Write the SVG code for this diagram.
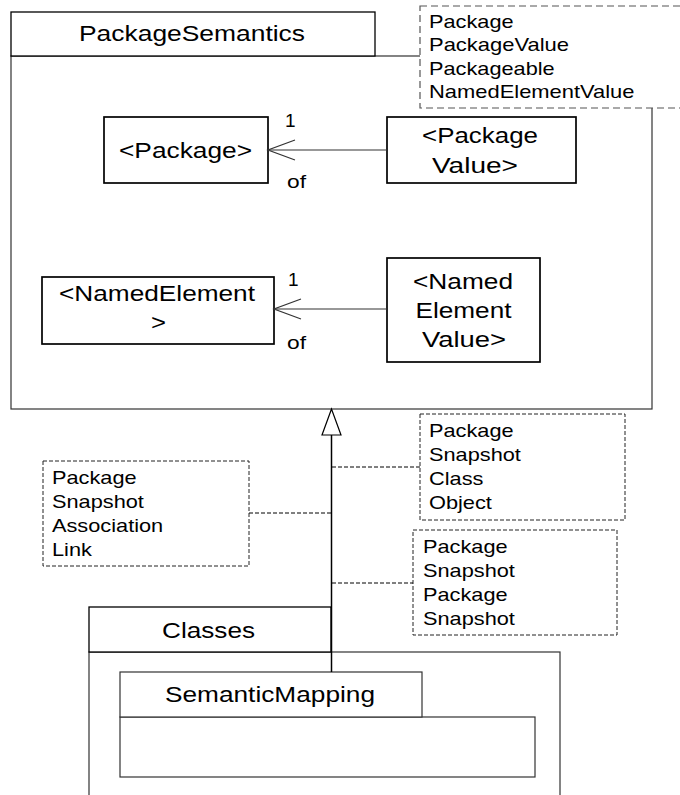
<svg xmlns="http://www.w3.org/2000/svg" width="680" height="795" viewBox="0 0 680 795">
<style>
.t{font-family:"Liberation Sans",Arial,sans-serif;fill:#000}
.m{font-size:22px}
.n{font-size:19px}
.box{fill:#fff;stroke:#000;stroke-width:1.7}
.pkg{fill:#fff;stroke:#333;stroke-width:1.2}
.tab{fill:#fff;stroke:#000;stroke-width:1.3}
.note{fill:#fff;stroke:#222;stroke-width:1;stroke-dasharray:4 2}
.note2{fill:#fff;stroke:#555;stroke-width:1.2;stroke-dasharray:7 4}
.ln{fill:none;stroke:#333;stroke-width:1.2}
.dl{fill:none;stroke:#000;stroke-width:1;stroke-dasharray:4 2}
</style>
<rect x="0" y="0" width="680" height="795" fill="#fff"/>
<g id="PackageSemantics">
<rect class="pkg" x="11" y="56" width="641" height="353"/>
<rect class="tab" x="11" y="12" width="364" height="44"/>
<text class="t m" x="79" y="41" textLength="226" lengthAdjust="spacingAndGlyphs">PackageSemantics</text>
</g>
<g id="note-top">
<rect class="note2" x="420" y="6" width="280" height="102"/>
<text class="t n" x="429" y="28" textLength="84.6" lengthAdjust="spacingAndGlyphs">Package</text>
<text class="t n" x="429" y="51" textLength="140" lengthAdjust="spacingAndGlyphs">PackageValue</text>
<text class="t n" x="429" y="74.5" textLength="125.7" lengthAdjust="spacingAndGlyphs">Packageable</text>
<text class="t n" x="429" y="98" textLength="205.5" lengthAdjust="spacingAndGlyphs">NamedElementValue</text>
</g>
<g id="Package">
<rect class="box" x="104" y="117" width="164" height="66"/>
<text class="t m" x="119" y="158" textLength="133" lengthAdjust="spacingAndGlyphs">&lt;Package&gt;</text>
</g>
<g id="PackageValue">
<rect class="box" x="387" y="117" width="189" height="66"/>
<text class="t m" x="422" y="143" textLength="116" lengthAdjust="spacingAndGlyphs">&lt;Package</text>
<text class="t m" x="432" y="173" textLength="86" lengthAdjust="spacingAndGlyphs">Value&gt;</text>
</g>
<g id="NamedElement">
<rect class="box" x="42" y="277" width="232" height="67"/>
<text class="t m" x="59" y="301" textLength="196" lengthAdjust="spacingAndGlyphs">&lt;NamedElement</text>
<text class="t m" x="151" y="330" textLength="15" lengthAdjust="spacingAndGlyphs">&gt;</text>
</g>
<g id="NamedElementValue">
<rect class="box" x="387" y="258" width="153" height="104"/>
<text class="t m" x="413" y="289" textLength="100" lengthAdjust="spacingAndGlyphs">&lt;Named</text>
<text class="t m" x="415.5" y="318" textLength="96" lengthAdjust="spacingAndGlyphs">Element</text>
<text class="t m" x="422" y="347" textLength="84" lengthAdjust="spacingAndGlyphs">Value&gt;</text>
</g>
<g id="Classes">
<rect class="pkg" x="89" y="652" width="471" height="160"/>
<rect class="tab" x="89" y="607" width="242" height="45"/>
<text class="t m" x="162" y="638" textLength="93" lengthAdjust="spacingAndGlyphs">Classes</text>
</g>
<g id="SemanticMapping">
<rect class="pkg" x="120" y="717" width="415" height="60"/>
<rect class="pkg" x="120" y="672" width="302" height="45"/>
<text class="t m" x="165" y="702" textLength="210" lengthAdjust="spacingAndGlyphs">SemanticMapping</text>
</g>
<g id="note-left">
<rect class="note" x="43" y="461" width="206" height="105"/>
<text class="t n" x="52" y="484" textLength="84.6" lengthAdjust="spacingAndGlyphs">Package</text>
<text class="t n" x="52" y="508" textLength="91.9" lengthAdjust="spacingAndGlyphs">Snapshot</text>
<text class="t n" x="52" y="532" textLength="111.2" lengthAdjust="spacingAndGlyphs">Association</text>
<text class="t n" x="52" y="556" textLength="39.9" lengthAdjust="spacingAndGlyphs">Link</text>
</g>
<g id="note-right1">
<rect class="note" x="420" y="414" width="205" height="106"/>
<text class="t n" x="429" y="437" textLength="84.6" lengthAdjust="spacingAndGlyphs">Package</text>
<text class="t n" x="429" y="461" textLength="91.9" lengthAdjust="spacingAndGlyphs">Snapshot</text>
<text class="t n" x="429" y="485" textLength="54.4" lengthAdjust="spacingAndGlyphs">Class</text>
<text class="t n" x="429" y="509" textLength="62.9" lengthAdjust="spacingAndGlyphs">Object</text>
</g>
<g id="note-right2">
<rect class="note" x="413" y="530" width="204" height="105"/>
<text class="t n" x="423" y="553" textLength="84.6" lengthAdjust="spacingAndGlyphs">Package</text>
<text class="t n" x="423" y="577" textLength="91.9" lengthAdjust="spacingAndGlyphs">Snapshot</text>
<text class="t n" x="423" y="601" textLength="84.6" lengthAdjust="spacingAndGlyphs">Package</text>
<text class="t n" x="423" y="625" textLength="91.9" lengthAdjust="spacingAndGlyphs">Snapshot</text>
</g>
<g id="connectors">
<line class="ln" x1="268" y1="150" x2="387" y2="150"/>
<polyline class="ln" points="295,140 268,150 295,160"/>
<text class="t n" x="285" y="127">1</text>
<text class="t n" x="287" y="188" textLength="19" lengthAdjust="spacingAndGlyphs">of</text>
<line class="ln" x1="274" y1="309" x2="387" y2="309"/>
<polyline class="ln" points="301,299 274,309 301,319"/>
<text class="t n" x="288" y="286">1</text>
<text class="t n" x="287" y="349" textLength="19" lengthAdjust="spacingAndGlyphs">of</text>
<line x1="331.5" y1="435" x2="331.5" y2="672" stroke="#000" stroke-width="1.5"/>
<polygon points="331.5,409 322,435 341,435" fill="#fff" stroke="#000" stroke-width="1.2"/>
<line class="dl" x1="332" y1="467" x2="420" y2="467"/>
<line class="dl" x1="249" y1="513" x2="332" y2="513"/>
<line class="dl" x1="332" y1="583" x2="413" y2="583"/>
</g>
</svg>
